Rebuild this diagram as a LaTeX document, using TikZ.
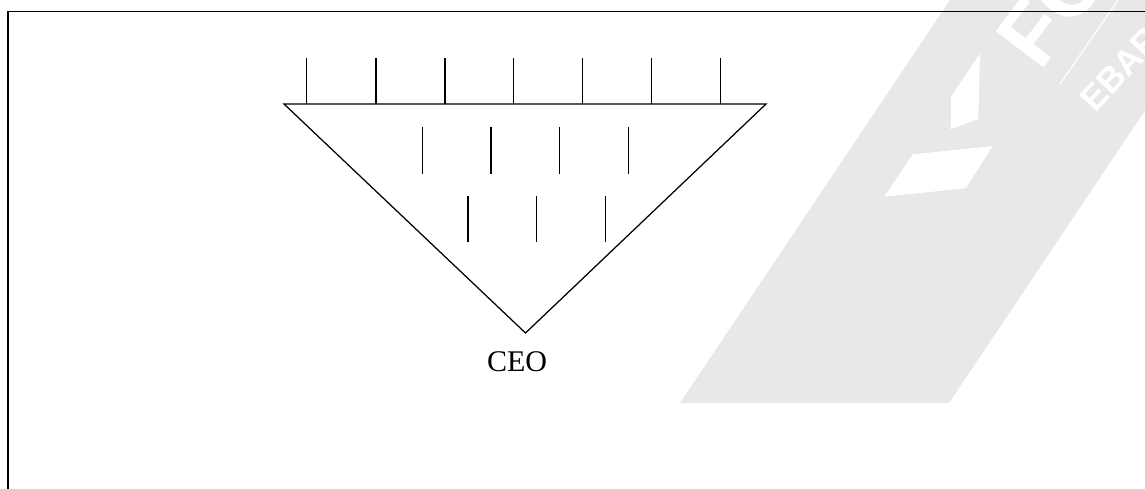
\documentclass[tikz,border=0pt]{standalone}
\usepackage{fontspec}
\setmainfont{Liberation Serif}
\newfontfamily\wmfont{Liberation Sans}
\definecolor{wmgrey}{RGB}{232,232,232}
\tikzset{
  frameline/.style={line width=1.6pt, black},
  tri/.style={line width=1.25pt, black, line join=miter},
  tick/.style={line width=1.25pt, black},
  wmtext/.style={white, inner sep=0pt, anchor=base west},
}
\begin{document}
\begin{tikzpicture}[x=1pt,y=-1pt]
\useasboundingbox (0,0) rectangle (1145,489);
\begin{scope}
  \clip (0,0) rectangle (1145,489);
  % watermark
  \fill[wmgrey] (950,0) -- (1219,0) -- (949,403) -- (680,403) -- cycle;
  \fill[white] (980,53.3) -- (978.3,119) -- (950.7,129.3) -- (951,96.7) -- cycle;
  \fill[white] (912.7,154.3) -- (992.7,146) -- (965.7,188.3) -- (884.3,196.7) -- cycle;
  \draw[white, line width=1.3pt] (1060,84) -- (1125,-10);
  \node[wmtext, font=\wmfont\bfseries\fontsize{87}{87}\selectfont, rotate=53] (fc) at (1040,73) {FC};
  \node[wmtext, font=\wmfont\bfseries\fontsize{35}{35}\selectfont, rotate=47] (ebara) at (1095,114) {EBARA};
  % frame
  \draw[frameline] (8,11.5) rectangle (1170,520);
\end{scope}
% triangle
\coordinate (tl) at (284,104);
\coordinate (tr) at (766,104);
\coordinate (apex) at (525.5,333);
\draw[tri] (tl) -- (tr) -- (apex) -- cycle;
% top ticks
\foreach \x in {306.7,376,445,513.7,582.7,651.7,720.7}
  \draw[tick] (\x,58.3) -- (\x,104);
% middle ticks
\foreach \x in {422.3,491,559.7,628.7}
  \draw[tick] (\x,126.7) -- (\x,174);
% bottom ticks
\foreach \x in {468,536.7,605.3}
  \draw[tick] (\x,195.7) -- (\x,242.3);
\node[font=\fontsize{30}{36}\selectfont, anchor=base, inner sep=0pt] (ceo) at (517,371) {CEO};
\end{tikzpicture}
\end{document}
